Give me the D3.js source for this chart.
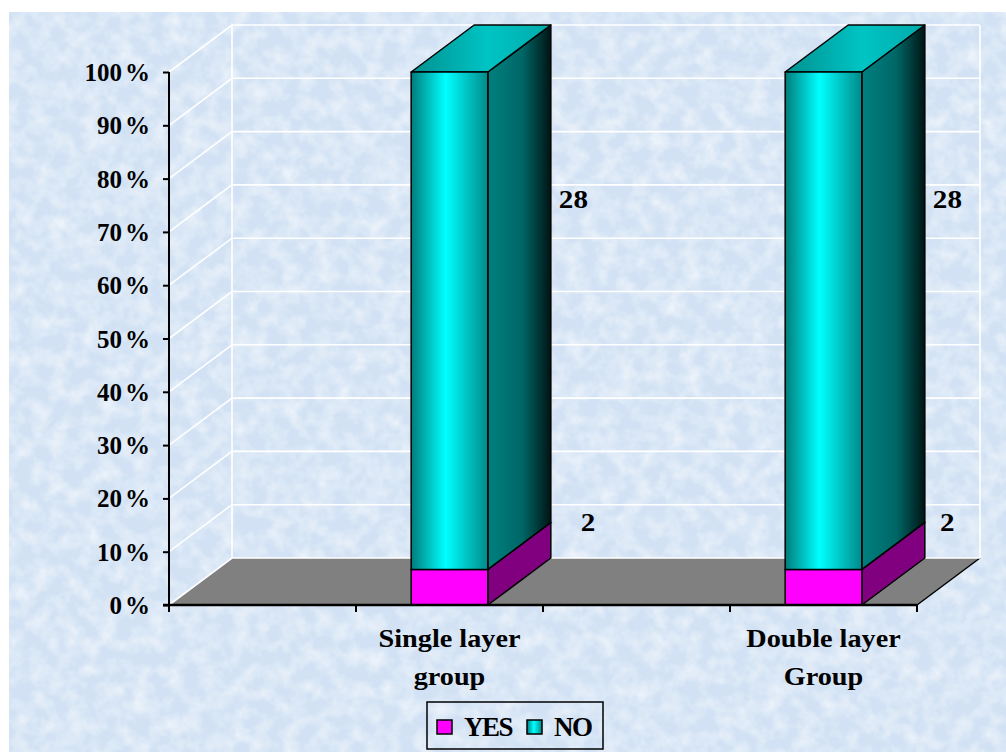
<!DOCTYPE html>
<html>
<head>
<meta charset="utf-8">
<script src="https://cdn.jsdelivr.net/npm/d3@7/dist/d3.min.js"></script>
<style>
  body { margin: 0; background: #fff; }
  svg { display: block; }
  text { font-family: "Liberation Serif", "Times New Roman", serif; font-weight: bold; fill: #000; }
</style>
</head>
<body>
<svg id="chart" width="1006" height="752"></svg>
<script>
// data
var categories = ["", "Single layer group", "", "Double layer Group"];
var catLines = [[], ["Single layer", "group"], [], ["Double layer", "Group"]];
var seriesNames = ["YES", "NO"];
var yesValues = [null, 2, null, 2];
var noValues = [null, 28, null, 28];
var yTicks = [0, 10, 20, 30, 40, 50, 60, 70, 80, 90, 100];

var svg = d3.select("#chart");
var W = 1006, H = 752;

// 3d depth offset
var dx = 63, dy = -47;

var x = d3.scaleBand().domain(d3.range(categories.length)).range([169, 917]).padding(0);
var y = d3.scaleLinear().domain([0, 100]).range([605, 72]);
var barW = x.bandwidth() * 0.41;

var defs = svg.append("defs");

var f = defs.append("filter").attr("id", "tex").attr("x", 0).attr("y", 0).attr("width", "100%").attr("height", "100%");
f.append("feTurbulence").attr("type", "fractalNoise").attr("baseFrequency", "0.06").attr("numOctaves", 3).attr("seed", 7);
f.append("feColorMatrix").attr("type", "matrix")
  .attr("values", "0 0 0 0 1  0 0 0 0 1  0 0 0 0 1  1.1 0 0 0 -0.4");

function grad(id, stops) {
  var g = defs.append("linearGradient").attr("id", id).attr("x1", "0%").attr("x2", "100%").attr("y1", "0%").attr("y2", "0%");
  stops.forEach(function(s) { g.append("stop").attr("offset", s[0]).attr("stop-color", s[1]); });
}
grad("noFront", [["0%", "#007c7c"], ["45%", "#00ffff"], ["100%", "#008a8a"]]);
grad("noSide", [["0%", "#008080"], ["55%", "#006666"], ["100%", "#001414"]]);
grad("noTop", [["0%", "#009090"], ["55%", "#00c4c4"], ["100%", "#00aaaa"]]);

// text helper, sx widens the glyphs like the original
function wideText(parent, tx, ty, str, size, sx, anchor) {
  return parent.append("text")
    .attr("transform", "translate(" + tx + "," + ty + ") scale(" + sx + ",1)")
    .attr("text-anchor", anchor || "start")
    .attr("font-size", size)
    .text(str);
}

// background panel
svg.append("rect").attr("x", 9).attr("y", 12).attr("width", W - 9).attr("height", H - 12).attr("fill", "#d2e2f4");
svg.append("rect").attr("x", 9).attr("y", 12).attr("width", W - 9).attr("height", H - 12).attr("filter", "url(#tex)");

var x0 = x.range()[0], x1 = x.range()[1];

// floor
svg.append("path")
  .attr("d", d3.line()([[x0, y(0)], [x1, y(0)], [x1 + dx, y(0) + dy], [x0 + dx, y(0) + dy]]) + "Z")
  .attr("fill", "#808080");
svg.append("line").attr("x1", x1).attr("y1", y(0)).attr("x2", x1 + dx).attr("y2", y(0) + dy)
  .attr("stroke", "#000").attr("stroke-width", 1.5);

// walls: gridlines
var grid = svg.append("g").attr("stroke", "#fff").attr("stroke-width", 1.6).attr("fill", "none");
yTicks.forEach(function(t) {
  grid.append("path").attr("d", d3.line()([[x0, y(t)], [x0 + dx, y(t) + dy], [x1 + dx, y(t) + dy]]));
});
grid.append("line").attr("x1", x0 + dx).attr("x2", x0 + dx).attr("y1", y(0) + dy).attr("y2", y(100) + dy);
grid.append("line").attr("x1", x1 + dx).attr("x2", x1 + dx).attr("y1", y(0) + dy).attr("y2", y(100) + dy);

// bars
var series = [
  { name: "YES", values: yesValues, front: "#ff00ff", side: "#800080", top: "#c000c0", labelFrac: 1, labelGap: 30 },
  { name: "NO", values: noValues, front: "url(#noFront)", side: "url(#noSide)", top: "url(#noTop)", labelFrac: 0.65, labelGap: 8 }
];

var bars = svg.append("g").attr("stroke", "#000").attr("stroke-width", 1.5).attr("stroke-linejoin", "round");
var labels = svg.append("g");

categories.forEach(function(c, i) {
  var total = d3.sum(series, function(s) { return s.values[i] || 0; });
  if (!total) return;
  var bl = x(i) + (x.bandwidth() - barW) / 2, br = bl + barW;
  var base = 0;
  series.forEach(function(s) {
    var v = s.values[i];
    var p = v / total * 100;
    var yb = y(base), yt = y(base + p);
    var g = bars.append("g");
    // side
    g.append("path").attr("d", d3.line()([[br, yb], [br + dx, yb + dy], [br + dx, yt + dy], [br, yt]]) + "Z")
      .attr("fill", s.side);
    // top
    g.append("path").attr("d", d3.line()([[bl, yt], [br, yt], [br + dx, yt + dy], [bl + dx, yt + dy]]) + "Z")
      .attr("fill", s.top);
    // front
    g.append("rect").attr("x", bl).attr("y", yt).attr("width", barW).attr("height", yb - yt)
      .attr("fill", s.front);
    // value label, kept inside the back wall
    var ly = y(base + p * s.labelFrac) + dy;
    var lx = Math.min(br + dx + s.labelGap, x1 + dx - 40);
    wideText(labels, lx, ly + 9, v, 26, 1.12);
    base += p;
  });
});

// axes
var yAxis = svg.append("g").attr("transform", "translate(" + x0 + ",0)")
  .call(d3.axisLeft(y).tickValues(yTicks).tickSize(6).tickFormat(""));
yAxis.select(".domain").attr("stroke", "#000").attr("stroke-width", 2).attr("d", "M0," + y(0) + "V" + y(100));
yAxis.selectAll(".tick line").attr("stroke", "#000").attr("stroke-width", 2);
yTicks.forEach(function(t) {
  var tx = wideText(svg, x0 - 19, y(t) + 9, t, 25, 1, "end");
  tx.append("tspan").attr("dx", 3).text("%");
});

var xTicks = d3.range(categories.length + 1).map(function(k) { return x0 + k * x.step(); });
var xAxis = svg.append("g");
xAxis.append("line").attr("x1", x0 - 6).attr("x2", x1).attr("y1", y(0)).attr("y2", y(0)).attr("stroke", "#000").attr("stroke-width", 2.5);
xAxis.selectAll("line.tk").data(xTicks).enter().append("line").attr("class", "tk")
  .attr("x1", function(d) { return d; }).attr("x2", function(d) { return d; })
  .attr("y1", y(0)).attr("y2", y(0) + 7).attr("stroke", "#000").attr("stroke-width", 2);

catLines.forEach(function(lines, i) {
  var cx = x(i) + x.bandwidth() / 2;
  lines.forEach(function(l, k) {
    wideText(svg, cx, 647 + k * 38, l, 25, 1.13, "middle");
  });
});

// legend
var leg = svg.append("g");
leg.append("rect").attr("x", 427).attr("y", 702).attr("width", 176).attr("height", 47)
  .attr("fill", "none").attr("stroke", "#000").attr("stroke-width", 1.5);
var legItems = [
  { name: seriesNames[0], fill: "#ff00ff", x: 437 },
  { name: seriesNames[1], fill: "url(#noFront)", x: 527 }
];
legItems.forEach(function(d) {
  leg.append("text").attr("x", d.x + 27).attr("y", 727).attr("dy", "0.35em").attr("font-size", 27)
    .attr("letter-spacing", -1.5).text(d.name);
  leg.append("rect").attr("x", d.x).attr("y", 720).attr("width", 15).attr("height", 14)
    .attr("fill", d.fill).attr("stroke", "#000").attr("stroke-width", 1.5);
});
</script>
</body>
</html>
